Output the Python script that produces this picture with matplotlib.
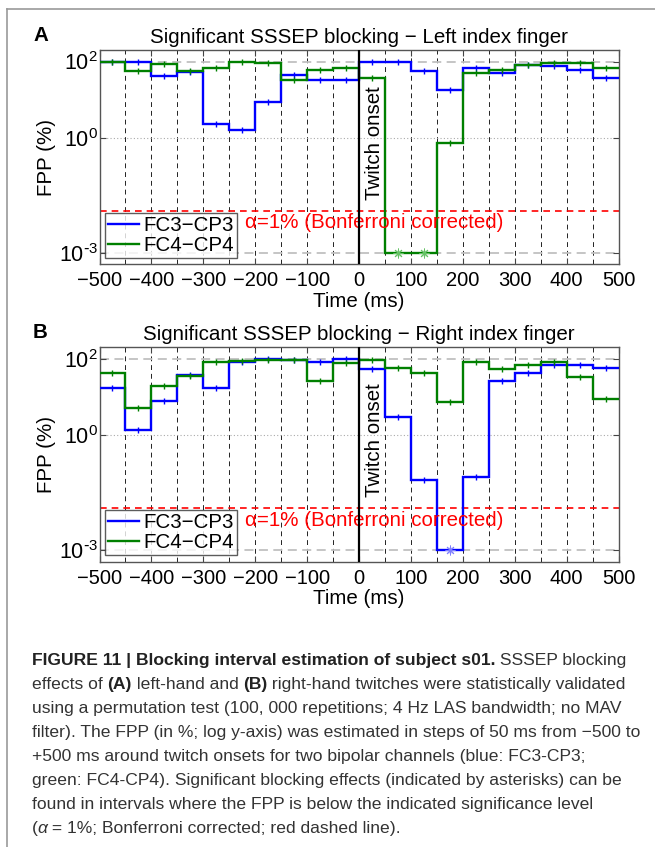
import numpy as np
import matplotlib
matplotlib.use('Agg')
import matplotlib.pyplot as plt
from matplotlib.lines import Line2D

plt.rcParams['font.family'] = ['Liberation Sans', 'DejaVu Sans']
plt.rcParams['mathtext.default'] = 'regular'

# Interval edges (ms), 50 ms steps from -500 to +500
edges = np.arange(-500, 501, 50)
centers = edges[:-1] + 25

# FPP (%) per interval
fpp_a_fc3 = [95.5, 95.5, 40.7, 52.5, 2.29, 1.62, 8.61, 43.6, 33.1, 33.1,
             95.5, 100, 57.5, 18.2, 66.1, 50.1, 79.4, 77.6, 58.9, 38.0]
fpp_a_fc4 = [95.5, 55.0, 87.1, 57.5, 67.6, 100, 93.3, 32.4, 60.3, 67.6,
             38.0, 0.001, 0.001, 0.76, 50.1, 58.9, 81.3, 93.3, 93.3, 67.6]
fpp_b_fc3 = [17.2, 1.41, 7.71, 37.5, 17.5, 85.1, 97.7, 92.3, 85.1, 100,
             53.7, 2.95, 0.0684, 0.001, 0.0832, 25.7, 43.6, 69.2, 67.6, 56.2]
fpp_b_fc4 = [41.4, 5.06, 19.0, 36.1, 83.2, 89.1, 95.5, 92.3, 26.1, 77.1,
             95.5, 58.2, 42.3, 7.55, 81.8, 55.0, 69.7, 85.1, 32.6, 9.06]

channels = ['FC3\u2212CP3', 'FC4\u2212CP4']
colors = ['#0000ff', '#008000']
star_colors = ['#7f7fff', '#66c266']
alpha_level = 1.0 / 80  # 1 % Bonferroni corrected

panels = [
    ('A', 'Significant SSSEP blocking \u2212 Left index finger', [fpp_a_fc3, fpp_a_fc4]),
    ('B', 'Significant SSSEP blocking \u2212 Right index finger', [fpp_b_fc3, fpp_b_fc4]),
]

W, H = 655, 847
fig = plt.figure(figsize=(W / 100, H / 100), dpi=100)

ax_left, ax_w = 99.5 / W, 519 / W
ax_tops = [50, 347.3]
ax_h = 214.5
letter_base = [41, 338]

fs = 14.8
tfs = 14.5
for (letter, title, series), top, lb in zip(panels, ax_tops, letter_base):
    ax = fig.add_axes([ax_left, 1 - (top + ax_h) / H, ax_w, ax_h / H])
    ax.set_yscale('log')
    ax.set_xlim(-500, 500)
    ax.set_ylim(5e-4, 200)

    # grid: black dashed verticals, grey horizontals
    for x in edges[1:-1]:
        if x != 0:
            ax.axvline(x, color='#222222', ls=(0, (5, 4)), lw=0.7, zorder=1)
    for y in [1e2, 1e-3]:
        ax.axhline(y, color='#c0c0c0', ls=(0, (5, 3)), lw=1.3, zorder=1)
    ax.axhline(1, color='#aaaaaa', ls=(0, (1, 2)), lw=0.8, zorder=1)

    lines = []
    for vals, col, scol, name in zip(series, colors, star_colors, channels):
        vals = np.array(vals)
        ax.stairs(vals, edges, baseline=None, color=col, lw=1.7, zorder=3)
        ax.plot(centers, vals, ls='none', marker='|', ms=4, mew=1, color=col, zorder=3)
        sig = vals < alpha_level
        ax.plot(centers[sig], vals[sig], ls='none', marker=(8, 2, 0), ms=7, mew=0.7,
                color=scol, zorder=4)
        lines.append(Line2D([], [], color=col, lw=1.7, label=name))

    ax.axhline(alpha_level, color='red', ls=(0, (4, 3)), lw=1.2, zorder=2)
    ax.axvline(0, color='k', lw=1.6, zorder=4)
    ax.text(11, 0.024, 'Twitch onset', rotation=90, ha='left', va='bottom', fontsize=fs)
    ax.text(-219, 0.0061, '\u03b1=1% (Bonferroni corrected)', color='red', fontsize=fs,
            ha='left', va='center')

    leg = ax.legend(handles=lines, loc='lower left', bbox_to_anchor=(0.010, 0.031),
                    borderaxespad=0, fontsize=fs, frameon=True, fancybox=False,
                    handlelength=1.5, handletextpad=0.25, labelspacing=0.05,
                    borderpad=0.15)
    leg.get_frame().set_edgecolor('#333333')
    leg.get_frame().set_linewidth(1)
    leg.set_zorder(5)

    ax.set_xticks(np.arange(-500, 501, 100))
    ax.set_xticklabels([str(v).replace('-', '\u2212') for v in range(-500, 501, 100)])
    ax.set_yticks([1e-3, 1, 1e2])
    ax.set_yticklabels(['$10^{\\text{-}3}$', '$10^{0}$', '$10^{2}$'])
    ax.minorticks_off()
    ax.tick_params(direction='in', length=4, width=0.8, top=True, right=True,
                   color='#444444')
    ax.tick_params(axis='x', labelsize=tfs, pad=5)
    ax.tick_params(axis='y', labelsize=15.5, pad=1)
    for s in ax.spines.values():
        s.set_color('#555555')
        s.set_linewidth(1)

    ax.set_title(title, fontsize=fs, pad=5)
    ax.set_xlabel('Time (ms)', fontsize=fs, labelpad=1)
    ax.set_ylabel('FPP (%)', fontsize=fs, labelpad=2)
    fig.text(33 / W, 1 - lb / H, letter, fontsize=fs, fontweight='bold',
             ha='left', va='baseline')

# frame lines of the figure box
fig.add_artist(Line2D([7 / W, 1], [1 - 9 / H, 1 - 9 / H], transform=fig.transFigure,
                      color='#999999', lw=1.2))
fig.add_artist(Line2D([7 / W, 7 / W], [1 - 9 / H, 0], transform=fig.transFigure,
                      color='#999999', lw=1.2))

# caption, drawn segment by segment so bold parts sit inline
renderer = fig.canvas.get_renderer()
cap_color = '#333333'
cap_fs = 12.6


def draw_line(segments, x_px, y_px):
    x = x_px
    for txt, weight, style in segments:
        t = fig.text(x / W, 1 - y_px / H, txt, fontsize=cap_fs, fontweight=weight,
                     fontstyle=style, color='#222222' if weight == 'bold' else cap_color,
                     ha='left', va='baseline')
        x += t.get_window_extent(renderer).width


n, b = 'normal', 'bold'
caption = [
    [('FIGURE 11 | Blocking interval estimation of subject s01.', b, n),
     (' SSSEP blocking', n, n)],
    [('effects of ', n, n), ('(A)', b, n), (' left-hand and ', n, n), ('(B)', b, n),
     (' right-hand twitches were statistically validated', n, n)],
    [('using a permutation test (100, 000 repetitions; 4 Hz LAS bandwidth; no MAV', n, n)],
    [('filter). The FPP (in %; log y-axis) was estimated in steps of 50 ms from \u2212500 to', n, n)],
    [('+500 ms around twitch onsets for two bipolar channels (blue: FC3-CP3;', n, n)],
    [('green: FC4-CP4). Significant blocking effects (indicated by asterisks) can be', n, n)],
    [('found in intervals where the FPP is below the indicated significance level', n, n)],
    [('(', n, n), ('\u03b1', n, 'italic'), (' = 1%; Bonferroni corrected; red dashed line).', n, n)],
]
for i, segs in enumerate(caption):
    draw_line(segs, 31.5, 665 + i * 24)

fig.savefig('out.png', dpi=100)
